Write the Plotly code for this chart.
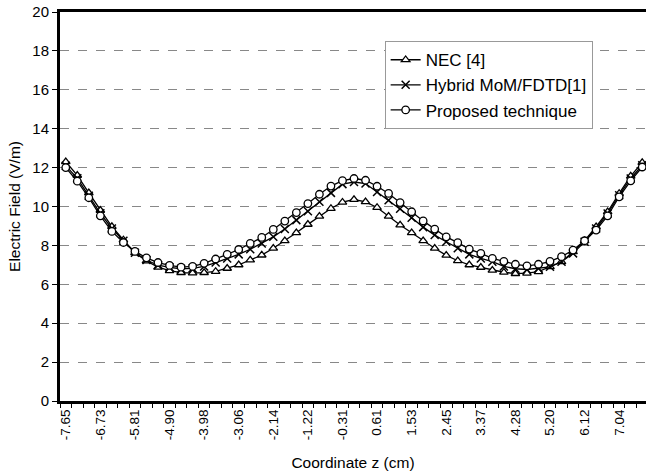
import plotly.graph_objects as go

# Coordinate z (cm), 51 sample points
z = [-7.650, -7.344, -7.038, -6.732, -6.426, -6.120, -5.814, -5.508, -5.202, -4.896,
     -4.590, -4.284, -3.978, -3.672, -3.366, -3.060, -2.754, -2.448, -2.142, -1.836,
     -1.530, -1.224, -0.918, -0.612, -0.306, 0.000, 0.306, 0.612, 0.918, 1.224,
     1.530, 1.836, 2.142, 2.448, 2.754, 3.060, 3.366, 3.672, 3.978, 4.284,
     4.590, 4.896, 5.202, 5.508, 5.814, 6.120, 6.426, 6.732, 7.038, 7.344, 7.650]

nec = [12.30, 11.60, 10.70, 9.80, 8.97, 8.28, 7.62, 7.20, 6.88, 6.70,
       6.60, 6.58, 6.60, 6.66, 6.82, 7.00, 7.25, 7.50, 7.85, 8.24,
       8.65, 9.08, 9.50, 9.90, 10.22, 10.36, 10.24, 9.95, 9.50, 9.05,
       8.65, 8.24, 7.85, 7.49, 7.21, 7.00, 6.87, 6.72, 6.62, 6.55,
       6.57, 6.65, 6.90, 7.16, 7.67, 8.24, 8.96, 9.73, 10.67, 11.56, 12.26]

hybrid = [12.10, 11.45, 10.55, 9.65, 8.87, 8.24, 7.62, 7.25, 6.98, 6.87,
          6.80, 6.82, 6.92, 7.12, 7.33, 7.54, 7.80, 8.10, 8.44, 8.84,
          9.30, 9.76, 10.24, 10.70, 11.15, 11.26, 11.18, 10.75, 10.32, 9.88,
          9.42, 8.94, 8.53, 8.19, 7.85, 7.54, 7.33, 7.16, 6.92, 6.80,
          6.76, 6.82, 6.90, 7.16, 7.59, 8.19, 8.87, 9.64, 10.58, 11.44, 12.12]

proposed = [12.00, 11.30, 10.45, 9.52, 8.72, 8.15, 7.69, 7.36, 7.12, 6.97,
            6.88, 6.92, 7.08, 7.30, 7.54, 7.79, 8.10, 8.41, 8.82, 9.25,
            9.69, 10.15, 10.63, 11.05, 11.33, 11.44, 11.35, 11.04, 10.67, 10.20,
            9.73, 9.26, 8.84, 8.44, 8.14, 7.81, 7.59, 7.33, 7.18, 7.03,
            6.95, 7.03, 7.18, 7.42, 7.76, 8.24, 8.79, 9.52, 10.50, 11.32, 12.03]

tick_vals = z[::3]
tick_text = ["-7.65", "-6.73", "-5.81", "-4.90", "-3.98", "-3.06", "-2.14", "-1.22",
             "-0.31", "0.61", "1.53", "2.45", "3.37", "4.28", "5.20", "6.12", "7.04"]

FONT = "Liberation Sans, Arial, sans-serif"

fig = go.Figure()
fig.add_trace(go.Scatter(
    x=z, y=nec, name="NEC [4]", mode="lines+markers",
    line=dict(color="black", width=1.3),
    marker=dict(symbol="triangle-up", size=7.5, color="white",
                line=dict(color="black", width=1.3))))
fig.add_trace(go.Scatter(
    x=z, y=hybrid, name="Hybrid MoM/FDTD[1]", mode="lines+markers",
    line=dict(color="black", width=1.3),
    marker=dict(symbol="x-thin-open", size=8, color="black",
                line=dict(color="black", width=1.5))))
fig.add_trace(go.Scatter(
    x=z, y=proposed, name="Proposed technique", mode="lines+markers",
    line=dict(color="black", width=1.3),
    marker=dict(symbol="circle", size=7.5, color="white",
                line=dict(color="black", width=1.3))))

fig.update_layout(
    width=646, height=476,
    margin=dict(l=60, r=0, t=12, b=75, autoexpand=False),
    paper_bgcolor="white", plot_bgcolor="white",
    font=dict(family=FONT, size=12, color="black"),
    legend=dict(
        x=0.554, y=0.925, xanchor="left", yanchor="top",
        bgcolor="white", bordercolor="#999999", borderwidth=1,
        font=dict(family=FONT, size=17, color="black"),
        tracegroupgap=0, itemwidth=30,
    ),
    xaxis=dict(
        range=[-7.803, 7.75],
        tickmode="array", tickvals=tick_vals, ticktext=tick_text,
        tickangle=-90, ticks="", showgrid=False, zeroline=False,
        showline=True, linecolor="black", linewidth=3, mirror=True,
        tickfont=dict(family=FONT, size=13.5, color="black"),
        minor=dict(ticks="outside", tick0=-7.803, dtick=0.306, ticklen=4,
                   tickcolor="black", tickwidth=1, showgrid=False),
        title=dict(text="Coordinate z (cm)", standoff=18,
                   font=dict(family=FONT, size=15.5, color="black")),
        automargin=False,
    ),
    yaxis=dict(
        range=[0, 20], tickmode="linear", tick0=0, dtick=2,
        ticks="outside", ticklen=5, tickcolor="black",
        showgrid=True, gridcolor="#888888", griddash="dash", gridwidth=1,
        zeroline=False, showline=True, linecolor="black", linewidth=3,
        tickfont=dict(family=FONT, size=15, color="black"),
        title=dict(text="Electric Field (V/m)", standoff=8,
                   font=dict(family=FONT, size=15.5, color="black")),
        automargin=False,
    ),
)

fig.write_html("out.html")
